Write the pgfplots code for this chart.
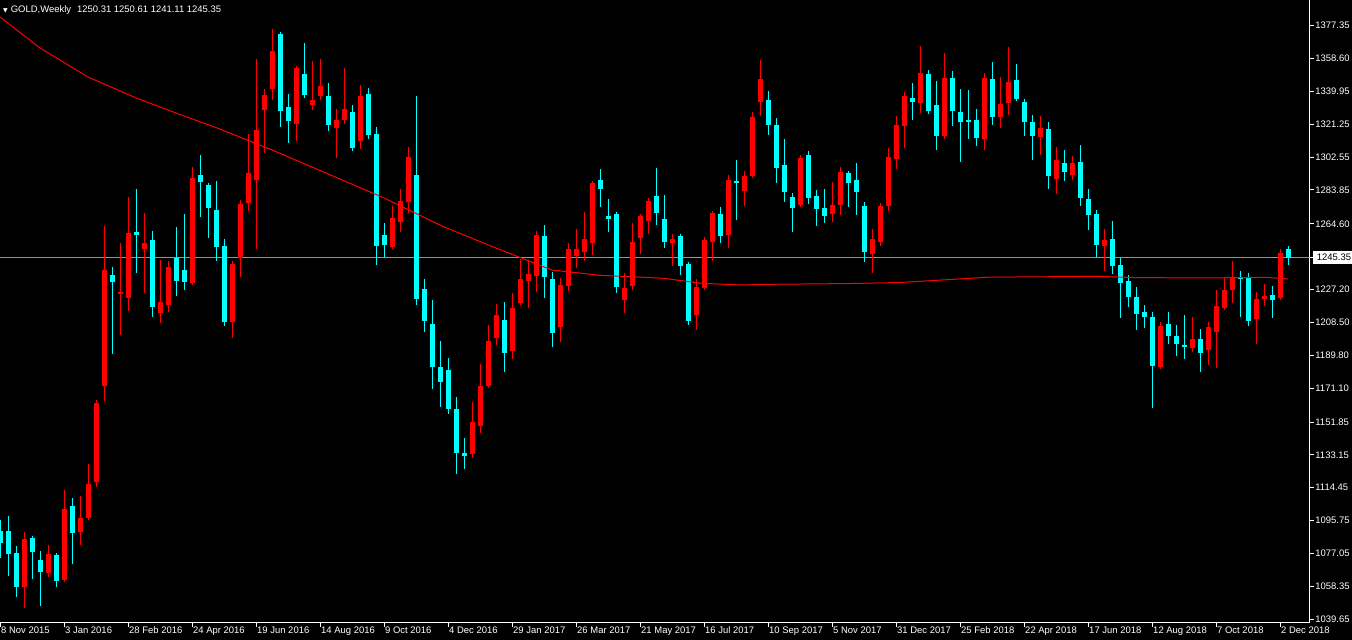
\documentclass[border=0pt]{standalone}
\usepackage{pgfplots}
\pgfplotsset{compat=1.18}
\usepackage{pgfplotstable}
\usetikzlibrary{calc}
\usepackage{fontspec}
\setmainfont{Liberation Sans}
\newfontfamily\symfont{DejaVu Sans}
\definecolor{bull}{RGB}{255,0,0}
\definecolor{bear}{RGB}{0,255,255}
\definecolor{pline}{RGB}{140,150,160}
\pgfdeclarelayer{background}
\pgfsetlayers{background,main}

% weekly candles, k = week index from 8 Nov 2015
\pgfplotstableread{
k o h l c
3 1057.9 1089.3 1046.3 1085.4
6 1065.8 1081.9 1063.9 1076.8
8 1062.2 1113.2 1061.7 1102.4
10 1089.5 1109.8 1081.9 1097.3
11 1097.5 1128.0 1096.7 1116.6
12 1118.0 1163.3 1115.1 1162.7
13 1172.6 1263.4 1163.8 1238.4
15 1224.9 1253.5 1201.4 1225.8
16 1222.6 1279.9 1215.0 1259.2
18 1250.3 1270.6 1225.5 1253.5
20 1214.1 1244.0 1208.4 1220.0
21 1218.6 1243.3 1214.6 1239.9
24 1231.1 1296.9 1229.8 1290.5
29 1208.8 1243.5 1199.9 1241.8
30 1245.4 1278.2 1234.6 1275.9
31 1276.6 1315.7 1272.1 1293.5
32 1289.7 1358.4 1250.5 1318.0
33 1329.5 1341.3 1305.1 1337.9
34 1341.5 1375.4 1335.0 1362.9
37 1321.6 1353.8 1311.9 1353.2
39 1332.4 1357.2 1329.5 1335.0
40 1337.3 1358.4 1335.2 1343.0
42 1319.3 1329.9 1302.2 1323.6
43 1323.8 1353.0 1321.6 1329.7
45 1311.7 1343.6 1307.2 1337.3
49 1251.6 1274.7 1250.5 1267.9
50 1265.8 1284.4 1260.1 1277.4
51 1277.2 1308.1 1270.9 1302.4
59 1133.9 1163.3 1131.6 1151.9
60 1149.8 1184.9 1145.8 1172.4
61 1172.6 1207.1 1172.0 1198.0
62 1199.9 1219.0 1195.9 1212.8
64 1192.5 1225.3 1187.9 1216.7
65 1219.6 1244.4 1219.2 1233.2
66 1232.1 1244.0 1216.9 1236.1
67 1235.1 1260.5 1226.0 1258.3
70 1206.1 1233.8 1197.6 1229.8
71 1229.4 1253.7 1226.6 1250.3
72 1246.5 1261.7 1239.7 1250.3
73 1248.8 1271.5 1243.6 1256.0
74 1253.9 1289.0 1247.1 1287.8
78 1221.5 1236.6 1214.1 1228.1
79 1229.4 1265.1 1227.1 1254.3
80 1256.7 1269.8 1247.4 1269.0
81 1266.4 1279.3 1259.0 1277.6
84 1253.9 1258.8 1240.8 1255.9
87 1212.9 1233.2 1204.2 1228.6
88 1228.1 1255.9 1227.9 1255.4
89 1254.4 1270.8 1243.6 1270.5
91 1258.4 1292.3 1251.0 1289.3
93 1283.4 1294.4 1274.9 1291.8
94 1291.8 1328.4 1291.4 1325.3
95 1334.1 1357.8 1325.9 1346.9
100 1275.3 1302.8 1274.9 1302.1
104 1270.4 1288.4 1265.8 1275.3
105 1275.5 1296.8 1269.8 1294.1
109 1247.6 1261.7 1236.5 1256.0
110 1254.5 1276.5 1252.2 1274.8
111 1274.8 1307.9 1272.0 1302.6
112 1301.5 1325.9 1296.0 1320.8
113 1320.4 1339.5 1307.9 1337.2
115 1333.5 1365.9 1327.8 1350.3
118 1314.5 1361.7 1313.5 1347.5
123 1313.0 1350.3 1306.7 1347.5
125 1325.5 1348.1 1319.1 1332.7
126 1333.5 1365.2 1326.5 1345.3
130 1314.2 1325.9 1303.9 1319.1
132 1290.3 1308.3 1281.7 1300.9
134 1292.5 1303.2 1289.7 1299.2
138 1252.2 1261.7 1237.8 1255.4
145 1183.2 1208.6 1182.8 1206.5
149 1194.2 1211.6 1191.9 1199.1
151 1192.6 1208.8 1184.5 1206.0
152 1203.3 1227.0 1182.8 1217.9
153 1216.9 1234.2 1216.5 1227.0
154 1227.0 1243.5 1219.8 1234.2
157 1210.3 1226.0 1196.4 1221.8
158 1221.8 1230.4 1218.0 1223.5
160 1222.4 1250.1 1221.3 1247.8
}\up

\pgfplotstableread{
k o h l c
0 1089.9 1096.2 1074.4 1082.9
1 1089.9 1098.4 1064.5 1076.6
2 1077.4 1081.4 1052.6 1057.9
4 1085.7 1087.1 1062.4 1077.8
5 1073.2 1078.5 1047.4 1066.4
7 1076.1 1077.4 1058.2 1061.7
9 1104.1 1108.7 1071.3 1088.6
14 1235.5 1240.1 1190.8 1231.7
17 1259.8 1284.2 1236.8 1258.4
19 1255.2 1260.3 1211.8 1217.1
22 1245.4 1262.6 1223.7 1231.9
23 1238.2 1270.0 1227.2 1231.3
25 1292.2 1303.8 1268.7 1288.6
26 1286.5 1287.6 1256.7 1273.4
27 1272.3 1288.8 1243.7 1251.6
28 1252.0 1256.0 1206.7 1208.6
35 1372.4 1373.1 1319.9 1328.6
36 1330.9 1338.5 1310.8 1322.9
38 1349.6 1367.5 1336.2 1338.1
41 1337.3 1344.7 1317.6 1320.6
44 1328.0 1332.2 1306.0 1307.9
46 1338.2 1341.8 1312.8 1315.3
47 1315.5 1319.7 1241.4 1251.8
48 1258.0 1264.9 1245.5 1252.7
52 1292.2 1337.3 1218.6 1221.6
53 1227.3 1233.0 1202.9 1209.1
54 1207.4 1221.3 1170.8 1183.0
55 1183.0 1197.8 1160.6 1174.8
56 1181.3 1188.3 1156.3 1159.5
57 1159.3 1166.1 1122.5 1134.5
58 1134.1 1142.8 1125.4 1132.8
63 1209.9 1220.2 1180.5 1191.3
68 1257.7 1264.0 1222.6 1234.2
69 1233.1 1237.4 1194.8 1202.3
75 1289.3 1295.8 1274.4 1284.6
76 1268.9 1278.7 1260.1 1267.5
77 1270.0 1271.1 1225.4 1228.9
82 1280.4 1296.3 1264.1 1270.6
83 1267.1 1281.0 1251.0 1254.4
85 1257.5 1258.0 1235.5 1240.8
86 1241.5 1242.9 1207.0 1209.5
90 1270.0 1274.0 1253.9 1257.8
92 1288.7 1300.7 1266.9 1287.6
96 1334.8 1339.9 1315.3 1321.0
97 1321.0 1325.0 1288.0 1296.2
98 1297.9 1313.0 1277.2 1282.5
99 1279.7 1282.2 1260.2 1273.4
101 1303.6 1305.9 1276.1 1279.1
102 1280.3 1283.9 1263.6 1272.9
103 1273.4 1284.4 1265.3 1268.9
106 1293.3 1294.5 1274.4 1288.0
107 1289.4 1299.2 1269.8 1282.5
108 1274.6 1277.0 1243.1 1248.4
114 1335.9 1344.6 1323.8 1334.0
116 1349.6 1352.0 1327.2 1328.9
117 1331.9 1345.8 1306.7 1314.3
119 1347.3 1351.5 1320.4 1328.9
120 1328.0 1341.2 1300.0 1322.3
121 1323.6 1340.7 1312.6 1323.0
122 1323.4 1329.9 1309.0 1313.5
124 1346.7 1356.6 1320.9 1325.1
127 1346.4 1355.5 1334.6 1335.8
128 1333.9 1335.4 1314.7 1322.7
129 1322.5 1326.5 1301.1 1314.7
131 1318.5 1322.5 1284.6 1292.0
133 1299.2 1306.6 1289.1 1293.9
135 1299.8 1309.4 1274.9 1279.5
136 1278.7 1284.4 1261.3 1269.8
137 1270.2 1272.4 1245.7 1252.7
139 1256.0 1266.2 1236.3 1240.8
140 1241.2 1245.4 1211.2 1231.2
141 1232.1 1235.5 1217.5 1223.2
142 1223.0 1228.7 1204.4 1213.5
143 1214.3 1218.5 1205.6 1211.8
144 1211.4 1214.3 1160.1 1183.9
146 1207.5 1214.5 1196.5 1201.0
147 1200.6 1206.9 1189.6 1196.1
148 1195.7 1212.6 1187.9 1194.4
150 1199.1 1204.8 1180.5 1191.3
155 1234.5 1237.8 1211.8 1233.0
156 1233.8 1236.6 1206.7 1209.5
159 1224.1 1229.4 1211.2 1221.5
161 1250.31 1250.61 1241.11 1245.35
}\down

% moving average line
\pgfplotstableread{
k ma
0 1382.2
5 1364.6
11 1348.1
17 1336.2
22 1327.6
27.25 1318.9
34 1306.6
41.6 1291.8
48 1279.3
55.4 1263.0
62 1250.8
69 1238.3
75 1235.3
83 1233.6
87.5 1230.8
92.5 1229.8
96.6 1230.2
106 1230.6
112.5 1231.2
123.5 1234.2
137 1234.7
142 1234.0
150 1233.8
158.5 1234.1
161 1233.2
}\ma

\begin{document}
\begin{tikzpicture}[x=1bp,y=1bp]
\begin{axis}[
  scale only axis, width=1309.7bp, height=622.7bp,
  xmin=0, xmax=163.71, ymin=1037.7, ymax=1391.9,
  axis x line*=bottom, axis y line*=right,
  axis line style={white, line width=1bp},
  tick align=outside, major tick length=4bp,
  tick style={white, line width=1bp},
  xtick={0,8,...,160},
  xticklabels={8 Nov 2015,3 Jan 2016,28 Feb 2016,24 Apr 2016,19 Jun 2016,14 Aug 2016,9 Oct 2016,4 Dec 2016,29 Jan 2017,26 Mar 2017,21 May 2017,16 Jul 2017,10 Sep 2017,5 Nov 2017,31 Dec 2017,25 Feb 2018,22 Apr 2018,17 Jun 2018,12 Aug 2018,7 Oct 2018,2 Dec 2018},
  ytick={1039.65,1058.35,1077.05,1095.75,1114.45,1133.15,1151.85,1171.10,1189.80,1208.50,1227.20,1264.60,1283.85,1302.55,1321.25,1339.95,1358.60,1377.35},
  yticklabels={1039.65,1058.35,1077.05,1095.75,1114.45,1133.15,1151.85,1171.10,1189.80,1208.50,1227.20,1264.60,1283.85,1302.55,1321.25,1339.95,1358.60,1377.35},
  extra y ticks={1245.35}, extra y tick labels={1245.35},
  extra y tick style={yticklabel style={fill=white, text=black, inner xsep=4bp, inner ysep=3bp, xshift=-2.5bp}},
  ticklabel style={font=\fontsize{9.5}{11}\selectfont, text=white},
  xticklabel style={anchor=north west, inner sep=0pt, xshift=1bp},
  yticklabel style={anchor=west, inner sep=0pt, xshift=1.5bp},
]
\coordinate (bl) at (rel axis cs:0,0);
% current price line
\addplot[pline, line width=1bp, forget plot] coordinates {(0,1245.35) (163.71,1245.35)};
% wicks
\addplot[draw=none, mark=none, forget plot, error bars/.cd, y dir=both, y explicit, error mark=none,
  error bar style={draw=bull, line width=1bp}]
  table[x=k, y expr={(\thisrow{h}+\thisrow{l})/2}, y error expr={(\thisrow{h}-\thisrow{l})/2}] {\up};
\addplot[draw=none, mark=none, forget plot, error bars/.cd, y dir=both, y explicit, error mark=none,
  error bar style={draw=bear, line width=1bp}]
  table[x=k, y expr={(\thisrow{h}+\thisrow{l})/2}, y error expr={(\thisrow{h}-\thisrow{l})/2}] {\down};
% bodies
\addplot[draw=none, mark=none, forget plot, error bars/.cd, y dir=both, y explicit, error mark=-,
  error mark options={draw=bull, line width=1bp, mark size=2.5bp},
  error bar style={draw=bull, line width=5bp, line cap=butt}]
  table[x=k, y expr={(\thisrow{o}+\thisrow{c})/2}, y error expr={abs(\thisrow{c}-\thisrow{o})/2}] {\up};
\addplot[draw=none, mark=none, forget plot, error bars/.cd, y dir=both, y explicit, error mark=-,
  error mark options={draw=bear, line width=1bp, mark size=2.5bp},
  error bar style={draw=bear, line width=5bp, line cap=butt}]
  table[x=k, y expr={(\thisrow{o}+\thisrow{c})/2}, y error expr={abs(\thisrow{c}-\thisrow{o})/2}] {\down};
% moving average
\addplot[bull, line width=1bp, mark=none] table[x=k, y=ma] {\ma};
\end{axis}
\begin{pgfonlayer}{background}
\fill[black] ($(bl)+(0,-17.3)$) rectangle ($(bl)+(1352,622.7)$);
\end{pgfonlayer}
\node[anchor=west, text=white, font=\fontsize{9.5}{11}\selectfont, inner sep=0pt] at ($(bl)+(3,612.7)$)
  {{\symfont\fontsize{6}{7}\selectfont ▼}\hspace{3bp}GOLD,Weekly\hspace{6bp}1250.31 1250.61 1241.11 1245.35};
\pgfresetboundingbox
\useasboundingbox ($(bl)+(0,-17.3)$) rectangle ($(bl)+(1352,622.7)$);
\end{tikzpicture}
\end{document}
